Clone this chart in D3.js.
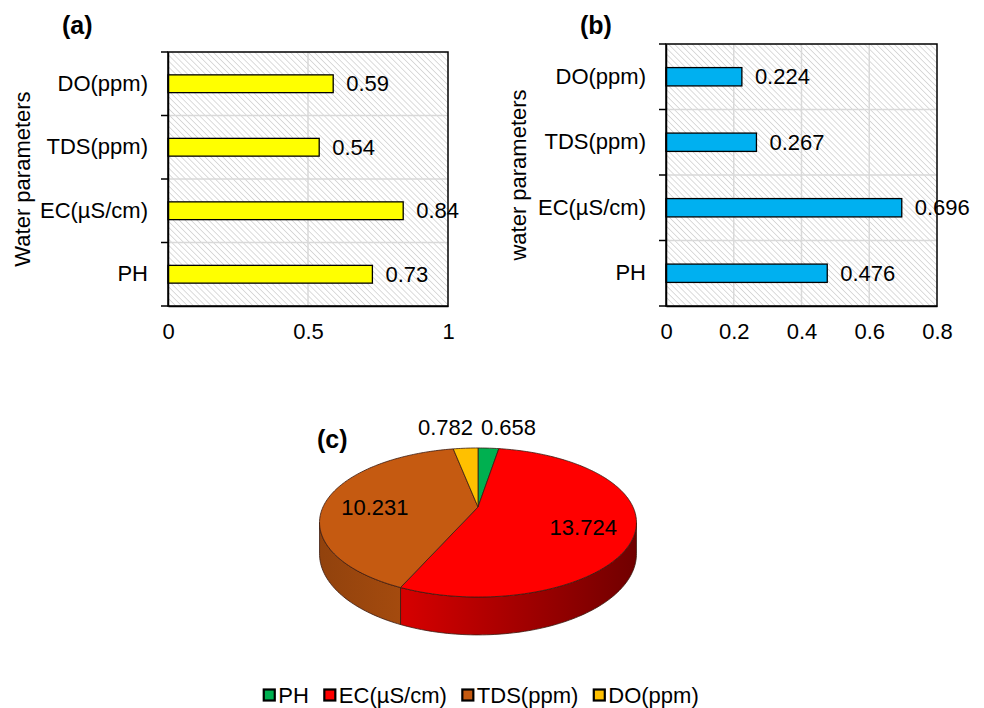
<!DOCTYPE html>
<html>
<head>
<meta charset="utf-8">
<script src="https://cdn.jsdelivr.net/npm/d3@7"></script>
<style>
  body { margin: 0; background: #fff; }
  text { font-family: "Liberation Sans", Arial, sans-serif; fill: #000; }
</style>
</head>
<body>
<script>
// Data
var categories = ["PH", "EC(µS/cm)", "TDS(ppm)", "DO(ppm)"];
var valuesA = [0.73, 0.84, 0.54, 0.59];
var valuesB = [0.476, 0.696, 0.267, 0.224];
var ticksA = [0, 0.5, 1];
var ticksB = [0, 0.2, 0.4, 0.6, 0.8];
var pieValues = [0.658, 13.724, 10.231, 0.782];
var pieColors = ["#00B050", "#FF0000", "#C55A11", "#FFC000"];

var svgWidth = 984;
var svgHeight = 708;

var svg = d3.select("body")
    .append("svg")
    .attr("width", svgWidth)
    .attr("height", svgHeight);

svg.append("rect").attr("width", svgWidth).attr("height", svgHeight).attr("fill", "#fff");

var defs = svg.append("defs");

// diagonal hatch used behind the bars
var hatch = defs.append("pattern")
    .attr("id", "hatch")
    .attr("patternUnits", "userSpaceOnUse")
    .attr("width", 4.2)
    .attr("height", 4.2)
    .attr("patternTransform", "rotate(-45)");
hatch.append("rect").attr("width", 4.2).attr("height", 4.2).attr("fill", "#fff");
hatch.append("line")
    .attr("x1", 0).attr("y1", 0).attr("x2", 0).attr("y2", 4.2)
    .attr("stroke", "#c4c4c4")
    .attr("stroke-width", 1.2);

function drawBars(o) {
    var g = svg.append("g");

    var xScale = d3.scaleLinear()
        .domain([0, o.ticks[o.ticks.length - 1]])
        .range([o.left, o.right]);

    var yScale = d3.scaleBand()
        .domain(categories.slice().reverse())
        .range([o.top, o.bottom])
        .paddingInner(0.72)
        .paddingOuter(0.36);

    var half = (yScale.step() - yScale.bandwidth()) / 2;
    var bounds = yScale.domain().map(c => yScale(c) - half).concat([o.bottom]);

    // background
    g.append("rect")
        .attr("x", o.left).attr("y", o.top)
        .attr("width", o.right - o.left).attr("height", o.bottom - o.top)
        .attr("fill", "url(#hatch)");

    // gridlines
    g.selectAll(".vgrid")
        .data(o.ticks.slice(1, -1))
        .enter()
        .append("line")
        .attr("x1", d => xScale(d)).attr("x2", d => xScale(d))
        .attr("y1", o.top).attr("y2", o.bottom)
        .attr("stroke", "#d9d9d9").attr("stroke-width", 1.5);

    g.selectAll(".hgrid")
        .data(bounds.slice(1, -1))
        .enter()
        .append("line")
        .attr("x1", o.left).attr("x2", o.right)
        .attr("y1", d => d).attr("y2", d => d)
        .attr("stroke", "#d9d9d9").attr("stroke-width", 1.5);

    // bars
    g.selectAll(".bar")
        .data(categories)
        .enter()
        .append("rect")
        .attr("x", xScale(0))
        .attr("y", d => yScale(d))
        .attr("width", (d, i) => xScale(o.values[i]) - xScale(0))
        .attr("height", yScale.bandwidth())
        .attr("fill", o.color)
        .attr("stroke", "#000")
        .attr("stroke-width", 1.3);

    // value labels
    g.selectAll(".val")
        .data(categories)
        .enter()
        .append("text")
        .attr("x", (d, i) => xScale(o.values[i]) + 13)
        .attr("y", d => yScale(d) + yScale.bandwidth() / 2)
        .attr("dy", "0.35em")
        .attr("font-size", 22)
        .text((d, i) => o.values[i]);

    // frame
    g.append("rect")
        .attr("x", o.left).attr("y", o.top)
        .attr("width", o.right - o.left).attr("height", o.bottom - o.top)
        .attr("fill", "none")
        .attr("stroke", "#000")
        .attr("stroke-width", 1.5);

    // axes
    var bottomAxis = d3.axisBottom(xScale)
        .tickValues(o.ticks)
        .tickSize(0)
        .tickPadding(17)
        .tickFormat(d3.format("~g"));

    var leftAxis = d3.axisLeft(yScale)
        .tickSize(0)
        .tickSizeOuter(0)
        .tickPadding(20);

    var xg = g.append("g")
        .attr("transform", `translate(0, ${o.bottom})`)
        .call(bottomAxis);
    xg.select(".domain").attr("stroke-width", 1.5);
    xg.selectAll("text").attr("font-size", 22).attr("font-family", null);

    var yg = g.append("g")
        .attr("transform", `translate(${o.left}, 0)`)
        .call(leftAxis);
    yg.select(".domain").attr("stroke-width", 1.5);
    yg.selectAll("text").attr("font-size", 22).attr("font-family", null);

    yg.selectAll(".bound")
        .data(bounds)
        .enter()
        .append("line")
        .attr("x1", -7).attr("x2", 0)
        .attr("y1", d => d).attr("y2", d => d)
        .attr("stroke", "#000").attr("stroke-width", 1.5);

    // titles
    g.append("text")
        .attr("x", o.titleX).attr("y", 34)
        .attr("font-size", 25).attr("font-weight", "bold")
        .text(o.title);

    g.append("text")
        .attr("transform", `translate(${o.ylabelX}, ${(o.top + o.bottom) / 2}) rotate(-90)`)
        .attr("text-anchor", "middle")
        .attr("font-size", 22)
        .text(o.ylabel);
}

drawBars({ left: 168, right: 448, top: 52, bottom: 306, values: valuesA, ticks: ticksA,
    color: "#FFFF00", title: "(a)", titleX: 62, ylabel: "Water parameters", ylabelX: 30 });

drawBars({ left: 666, right: 937, top: 44, bottom: 306, values: valuesB, ticks: ticksB,
    color: "#00B0F0", title: "(b)", titleX: 580, ylabel: "water parameters", ylabelX: 526 });

// 3D pie (c)
var pcx = 478, pcy = 507, pRx = 155, pRy = 71.3, pk = 0.208, pDepth = 30;

function proj(theta, f, drop) {
    f = f === undefined ? 1 : f;
    drop = drop || 0;
    var px = Math.sin(theta) * f, pz = Math.cos(theta) * f;
    var s = 1 / (1 + pk * pz);
    return [pcx + pRx * px * s, pcy - pRy * pz * s + drop * s];
}

function arcPoints(a0, a1, drop) {
    var n = Math.max(2, Math.ceil((a1 - a0) / 0.02));
    return d3.range(n + 1).map(i => proj(a0 + (a1 - a0) * i / n, 1, drop));
}

var pie = d3.pie().sort(null).value(d => d);
var slices = pie(pieValues);

var pg = svg.append("g");

// side walls (only the front part is visible)
var visA = Math.acos(-pk), visB = 2 * Math.PI - Math.acos(-pk);
var wallX0 = pcx - pRx * 1.03, wallX1 = pcx + pRx * 1.03;

slices.forEach(function (d, i) {
    var grad = defs.append("linearGradient")
        .attr("id", "wall" + i)
        .attr("gradientUnits", "userSpaceOnUse")
        .attr("x1", wallX0).attr("x2", wallX1).attr("y1", 0).attr("y2", 0);
    var c = d3.color(pieColors[i]);
    grad.append("stop").attr("offset", 0).attr("stop-color", c.darker(0.85));
    grad.append("stop").attr("offset", 0.27).attr("stop-color", c.darker(0.5));
    grad.append("stop").attr("offset", 1).attr("stop-color", c.darker(2.3));

    var a0 = Math.max(d.startAngle, visA), a1 = Math.min(d.endAngle, visB);
    if (a1 <= a0) return;
    var pts = arcPoints(a0, a1, 0).concat(arcPoints(a0, a1, pDepth).reverse());
    pg.append("path")
        .attr("d", d3.line()(pts) + "Z")
        .attr("fill", "url(#wall" + i + ")")
        .attr("stroke", "#3a1a10")
        .attr("stroke-width", 0.8)
        .attr("stroke-linejoin", "round");
});

// top faces
slices.forEach(function (d, i) {
    var pts = [[pcx, pcy]].concat(arcPoints(d.startAngle, d.endAngle, 0));
    pg.append("path")
        .attr("d", d3.line()(pts) + "Z")
        .attr("fill", pieColors[i])
        .attr("stroke", "#3a1a10")
        .attr("stroke-width", 0.8)
        .attr("stroke-linejoin", "round");
});

// data labels
var topY = proj(0, 1)[1];
slices.forEach(function (d, i) {
    var share = (d.endAngle - d.startAngle) / (2 * Math.PI);
    var mid = (d.startAngle + d.endAngle) / 2;
    var t = pg.append("text").attr("font-size", 22).text(pieValues[i]);
    if (share > 0.1) {
        var p = proj(mid, 0.68, pDepth * 0.18);
        t.attr("x", p[0]).attr("y", p[1]).attr("dy", "0.35em").attr("text-anchor", "middle");
    } else {
        var left = Math.sin(mid) < 0;
        var edge = proj(left ? d.endAngle : d.startAngle, 1)[0];
        t.attr("x", left ? edge - 5 : edge + 3)
            .attr("y", topY - 13)
            .attr("text-anchor", left ? "end" : "start");
    }
});

pg.append("text")
    .attr("x", 317).attr("y", 448)
    .attr("font-size", 25).attr("font-weight", "bold")
    .text("(c)");

// legend
var legend = svg.append("g");
var lx = 0;
categories.forEach(function (c, i) {
    var item = legend.append("g").attr("transform", `translate(${lx}, 0)`);
    item.append("rect")
        .attr("x", 0.5).attr("y", 689.5)
        .attr("width", 11).attr("height", 11)
        .attr("fill", pieColors[i])
        .attr("stroke", "#000")
        .attr("stroke-width", 2.2);
    var t = item.append("text")
        .attr("x", 15).attr("y", 703)
        .attr("font-size", 22)
        .text(c);
    lx += 15 + t.node().getComputedTextLength() + 15;
});
legend.attr("transform", `translate(${481 - (lx - 15) / 2}, 0)`);
</script>
</body>
</html>
